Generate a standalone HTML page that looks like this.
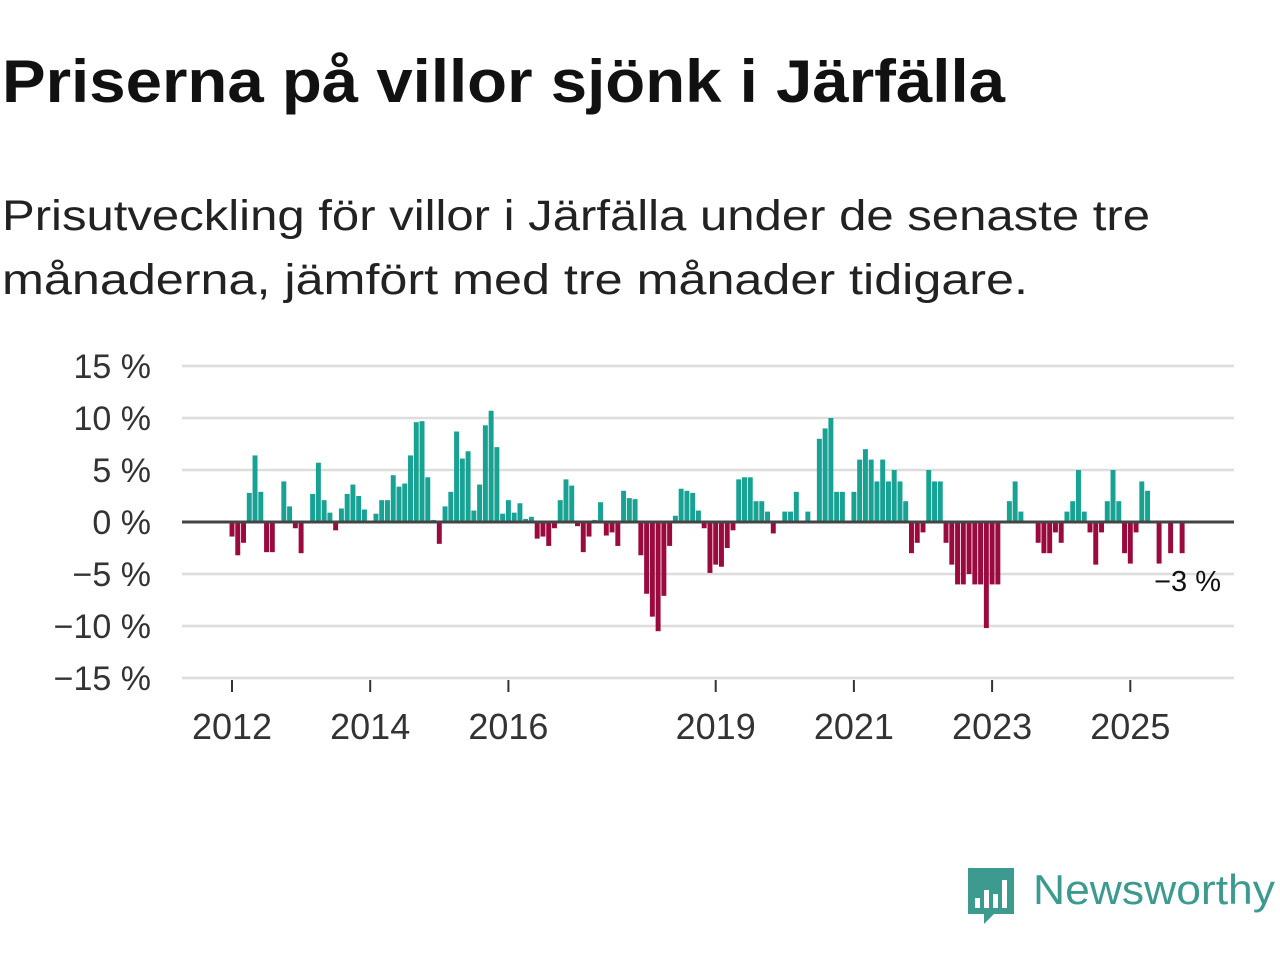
<!DOCTYPE html>
<html><head><meta charset="utf-8"><style>
html,body{margin:0;padding:0;background:#fff;}
svg{display:block;font-family:"Liberation Sans","DejaVu Sans",sans-serif;}
</style></head><body>
<svg id="chart" width="1280" height="960" viewBox="0 0 1280 960" xmlns="http://www.w3.org/2000/svg">
<text x="2" y="102" font-size="60" font-weight="bold" fill="#111" textLength="1003" lengthAdjust="spacingAndGlyphs">Priserna på villor sjönk i Järfälla</text>
<text x="2" y="230" font-size="43" fill="#222" textLength="1148" lengthAdjust="spacingAndGlyphs">Prisutveckling för villor i Järfälla under de senaste tre</text>
<text x="2" y="294" font-size="43" fill="#222" textLength="1026" lengthAdjust="spacingAndGlyphs">månaderna, jämfört med tre månader tidigare.</text>
<g id="grid"></g>
<g id="yticks"></g>
<g id="bars"></g>
<line x1="182" x2="1234" y1="522" y2="522" stroke="#444" stroke-width="3"/>
<g id="xticks"></g>
<text x="1221" y="591" font-size="29" fill="#111" text-anchor="end">−3 %</text>
<g>
<path d="M968 868 h46 v46 h-20 l-10 10 v-10 h-16 z" fill="#3d9a8f"/>
<rect x="975" y="898" width="5" height="10" fill="#fff"/>
<rect x="984" y="890" width="5" height="18" fill="#fff"/>
<rect x="993" y="894" width="5" height="14" fill="#fff"/>
<rect x="1002" y="880" width="5" height="28" fill="#fff"/>
<text x="1033" y="904" font-size="42" fill="#3d9a8f" textLength="242" lengthAdjust="spacingAndGlyphs">Newsworthy</text>
</g>
</svg>
<script>
const months = 166;
const values = [-1.4,-3.2,-2,2.8,6.4,2.9,-2.9,-2.9,null,3.9,1.5,-0.6,
-3,null,2.7,5.7,2.1,0.9,-0.8,1.3,2.7,3.6,2.5,1.2,
null,0.8,2.1,2.1,4.5,3.4,3.7,6.4,9.6,9.7,4.3,0.2,
-2.1,1.5,2.9,8.7,6.1,6.8,1.1,3.6,9.3,10.7,7.2,0.8,
2.1,0.9,1.8,0.3,0.5,-1.6,-1.4,-2.3,-0.6,2.1,4.1,3.5,
-0.4,-2.9,-1.4,0.2,1.9,-1.3,-1.0,-2.3,3.0,2.3,2.2,-3.2,
-6.9,-9.1,-10.5,-7.1,-2.3,0.6,3.2,3.0,2.8,1.1,-0.6,-4.9,
-4.1,-4.3,-2.5,-0.8,4.1,4.3,4.3,2.0,2.0,1.0,-1.1,null,
1.0,1.0,2.9,null,1.0,null,8.0,9.0,10.0,2.9,2.9,null,
2.9,6.0,7.0,6.0,3.9,6.0,3.9,5.0,3.9,2.0,-3.0,-2.0,
-1.0,5.0,3.9,3.9,-2.0,-4.1,-6.0,-6.0,-5.0,-6.0,-6.0,-10.2,
-6.0,-6.0,null,2.0,3.9,1.0,null,null,-2.0,-3.0,-3.0,-1.0,
-2.0,1.0,2.0,5.0,1.0,-1.0,-4.1,-1.0,2.0,5.0,2.0,-3.0,
-4.0,-1.0,3.9,3.0,null,-4.0,null,-3.0,null,-3.0];
const yTicks = [15,10,5,0,-5,-10,-15];
const yTickLabels = ["15 %","10 %","5 %","0 %","−5 %","−10 %","−15 %"];
const xTickYears = [2012,2014,2016,2019,2021,2023,2025];

const NS="http://www.w3.org/2000/svg";
const y = v => 522 - v*10.4;
const xm = m => 232 + m*(69.1/12);
const bw = 69.1/12*0.86;
function mk(tag,attrs,parent){const e=document.createElementNS(NS,tag);for(const k in attrs)e.setAttribute(k,attrs[k]);document.getElementById(parent).appendChild(e);return e;}
yTicks.forEach((t,i)=>{
  if(t!==0){const l=mk('line',{x1:182,x2:1234,y1:y(t),y2:y(t),stroke:'#ddd','stroke-width':2.5},'grid');
  
  }
  const tx=mk('text',{x:151,y:y(t)+12,'font-size':34,fill:'#333','text-anchor':'end'},'yticks');
  tx.textContent=yTickLabels[i];
  
  
});
values.forEach((v,m)=>{
  if(v===null||v===0)return;
  const top=Math.min(y(v),y(0)), h=Math.abs(y(v)-y(0));
  const r=mk('rect',{x:xm(m)-bw/2,y:top,width:bw,height:h,fill:v>0?'#17a293':'#9b0a3e'},'bars');
  
  
});
xTickYears.forEach(yr=>{
  const x=xm((yr-2012)*12);
  const l=mk('line',{x1:x,x2:x,y1:680,y2:692,stroke:'#333','stroke-width':2},'xticks');
  
  
  const t=mk('text',{x:x,y:739,'font-size':36,fill:'#333','text-anchor':'middle'},'xticks');
  t.textContent=yr;
  
  
});
</script>
</body></html>
